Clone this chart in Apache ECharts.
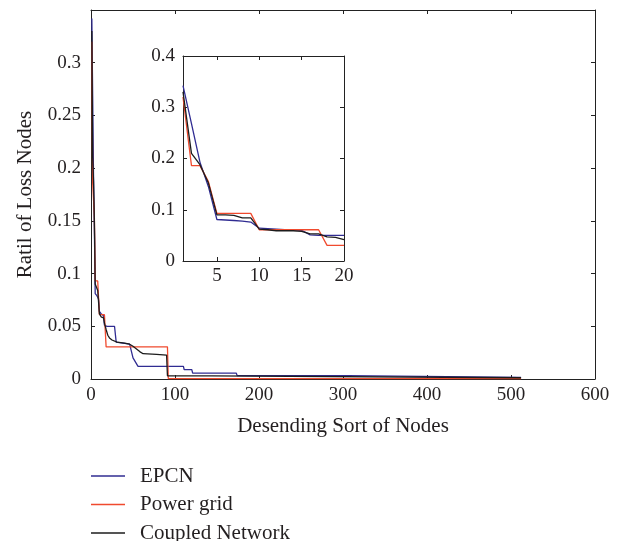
<!DOCTYPE html>
<html>
<head>
<meta charset="utf-8">
<script src="https://cdn.jsdelivr.net/npm/echarts@6/dist/echarts.min.js"></script>
<style>
html,body{margin:0;padding:0;background:#fff;}
#chart{width:624px;height:541px;}
</style>
</head>
<body>
<div id="chart"></div>
<script>
// ---- Data ----
const seriesNames = ['EPCN', 'Power grid', 'Coupled Network'];

// First 20 nodes (shown in the inset)
const insetNodes = [1,2,3,4,5,6,7,8,9,10,11,12,13,14,15,16,17,18,19,20];
const epcnInset    = [0.342,0.268,0.193,0.145,0.081,0.080,0.079,0.078,0.076,0.064,0.063,0.062,0.061,0.061,0.060,0.051,0.050,0.050,0.050,0.050];
const powerInset   = [0.320,0.186,0.186,0.155,0.093,0.093,0.093,0.093,0.093,0.061,0.061,0.061,0.061,0.061,0.061,0.061,0.061,0.0305,0.0305,0.0305];
const coupledInset = [0.330,0.210,0.188,0.152,0.090,0.090,0.089,0.084,0.084,0.062,0.061,0.059,0.059,0.059,0.058,0.053,0.053,0.047,0.046,0.0415];

// Remaining nodes (break points of the main curves)
const epcnTailNodes     = [28,30,46,50,56,110,111,120,121,173,174,306,307,512];
const epcnTailValues    = [0.050,0.035,0.033,0.020,0.012,0.012,0.0088,0.0088,0.0055,0.0055,0.0032,0.0032,0.0016,0.0016];
const powerTailNodes    = [91,92,512];
const powerTailValues   = [0.0305,0.0004,0.0004];
const coupledTailNodes  = [22,25,31,40,46,50,58,62,78,90,91,144,145,512];
const coupledTailValues = [0.039,0.037,0.035,0.034,0.033,0.031,0.026,0.024,0.0234,0.0227,0.003,0.003,0.0012,0.0012];

const xTicksMain = [0,100,200,300,400,500,600];
const insetXTicks = [5,10,15,20];

// ---- Build ----
function pairs(xs, ys){ return xs.map((x,i)=>[x, ys[i]]); }
const epcnMain    = pairs(insetNodes, epcnInset).concat(pairs(epcnTailNodes, epcnTailValues));
const powerMain   = pairs(insetNodes, powerInset).concat(pairs(powerTailNodes, powerTailValues));
const coupledMain = pairs(insetNodes, coupledInset).concat(pairs(coupledTailNodes, coupledTailValues));

const colors = ['#302c92', '#f04a2e', '#1c1c1c'];
const FONT = 'Liberation Serif';
const TXT = '#231f20';
const lineStyleAx = {color:'#222', width:1};

function boxAxis(type, pos, grid, min, max, interval, opts){
  const a = {
    type:'value', gridIndex:grid, position:pos, min:min, max:max,
    splitLine:{show:false},
    axisLine:{show:true, onZero:false, lineStyle:lineStyleAx},
    axisTick:{show:true, inside:true, length:4, lineStyle:lineStyleAx},
    axisLabel:{show:false}
  };
  if (interval != null) a.interval = interval;
  return Object.assign(a, opts||{});
}

const chart = echarts.init(document.getElementById('chart'), null, {renderer:'canvas'});
const option = {
  animation:false,
  backgroundColor:'#fff',
  textStyle:{fontFamily:FONT, color:TXT},
  legend:{
    orient:'vertical', left:91, top:465.5, width:300, height:120, padding:0, itemGap:7.5,
    itemWidth:34, itemHeight:1.5, icon:'rect',
    data:seriesNames,
    textStyle:{fontFamily:FONT, fontSize:21, lineHeight:20, color:TXT, padding:[0,0,0,10]}
  },
  grid:[
    {left:91, top:10, right:29, bottom:162},
    {left:183, top:56, width:161, height:205}
  ],
  xAxis:[
    boxAxis('x','bottom',0,0,600,100,{
      name:'Desending Sort of Nodes', nameLocation:'middle', nameGap:37,
      nameTextStyle:{fontFamily:FONT, fontSize:21, color:TXT},
      axisLabel:{show:true, fontFamily:FONT, fontSize:19, color:TXT, margin:7}
    }),
    boxAxis('x','top',0,0,600,100),
    boxAxis('x','bottom',1,1,20,null,{
      axisTick:{show:true, inside:true, length:4, lineStyle:lineStyleAx, customValues:insetXTicks},
      axisLabel:{show:true, fontFamily:FONT, fontSize:19, color:TXT, margin:6, customValues:insetXTicks}
    }),
    boxAxis('x','top',1,1,20,null,{
      axisTick:{show:true, inside:true, length:4, lineStyle:lineStyleAx, customValues:insetXTicks}
    })
  ],
  yAxis:[
    boxAxis('y','left',0,0,0.35,0.05,{
      name:'Ratil of Loss Nodes', nameLocation:'middle', nameGap:55,
      nameTextStyle:{fontFamily:FONT, fontSize:21, color:TXT},
      axisLabel:{show:true, fontFamily:FONT, fontSize:19, color:TXT, margin:10, showMaxLabel:false}
    }),
    boxAxis('y','right',0,0,0.35,0.05),
    boxAxis('y','left',1,0,0.4,0.1,{
      axisLabel:{show:true, fontFamily:FONT, fontSize:19, color:TXT, margin:8}
    }),
    boxAxis('y','right',1,0,0.4,0.1)
  ],
  series:[
    {name:seriesNames[0], type:'line', xAxisIndex:0, yAxisIndex:0, data:epcnMain, symbol:'none', color:colors[0], lineStyle:{width:1.3, color:colors[0]}},
    {name:seriesNames[1], type:'line', xAxisIndex:0, yAxisIndex:0, data:powerMain, symbol:'none', color:colors[1], lineStyle:{width:1.3, color:colors[1]}},
    {name:seriesNames[2], type:'line', xAxisIndex:0, yAxisIndex:0, data:coupledMain, symbol:'none', color:colors[2], lineStyle:{width:1.3, color:colors[2]}},
    {name:seriesNames[0], type:'line', xAxisIndex:2, yAxisIndex:2, data:pairs(insetNodes, epcnInset), symbol:'none', color:colors[0], lineStyle:{width:1.3, color:colors[0]}},
    {name:seriesNames[1], type:'line', xAxisIndex:2, yAxisIndex:2, data:pairs(insetNodes, powerInset), symbol:'none', color:colors[1], lineStyle:{width:1.3, color:colors[1]}},
    {name:seriesNames[2], type:'line', xAxisIndex:2, yAxisIndex:2, data:pairs(insetNodes, coupledInset), symbol:'none', color:colors[2], lineStyle:{width:1.3, color:colors[2]}}
  ]
};
chart.setOption(option);
</script>
</body>
</html>
